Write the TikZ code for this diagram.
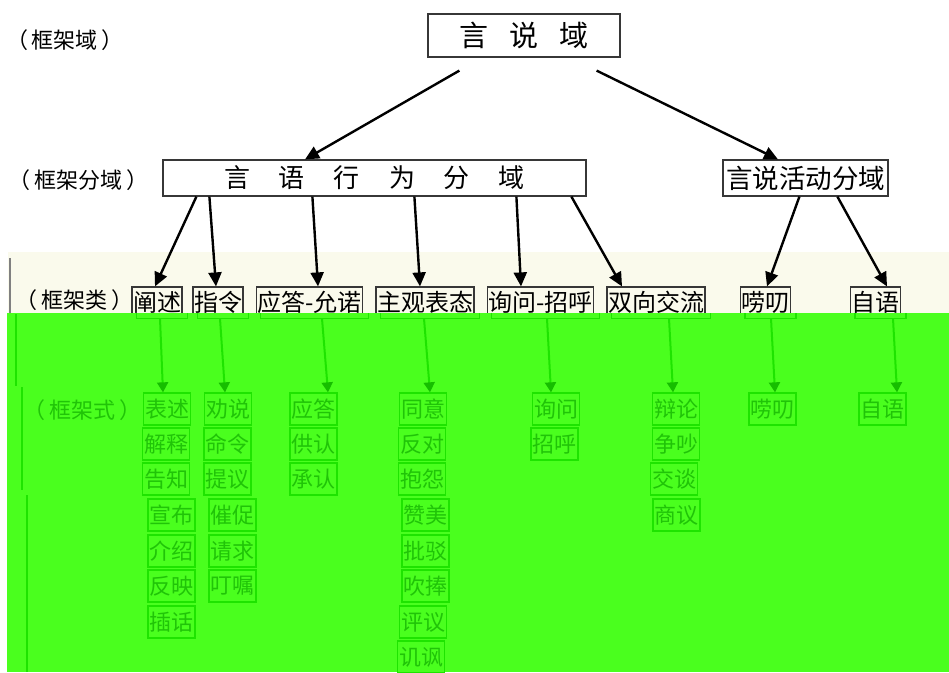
\documentclass[tikz,border=0pt]{standalone}
\usepackage{fontspec}
\setmainfont{Noto Sans CJK SC}
\usetikzlibrary{arrows, arrows.meta}
\usetikzlibrary{positioning}
\usepackage{xcolor}
\definecolor{cream}{RGB}{250,250,236}
\definecolor{glare}{RGB}{74,255,30}
\definecolor{gline}{RGB}{30,228,0}
\definecolor{gtext}{RGB}{32,196,8}
\definecolor{gtip}{RGB}{22,190,0}
\definecolor{boxgray}{RGB}{55,55,55}

\newcommand{\paren}[1]{（\hspace{4pt}#1\hspace{4pt}）}

\tikzset{
  frame/.style={draw=boxgray, line width=1.2pt, inner sep=1pt},
  cls/.style={frame, minimum height=31pt, font=\fontsize{24}{24}\selectfont},
  leaf/.style={draw=gline, line width=1.3pt, text=gtext, inner xsep=1.5pt, minimum height=32pt, font=\fontsize{22}{22}\selectfont},
  tag/.style={font=\fontsize{22}{22}\selectfont},
  arr/.style={black, line width=2.4pt, -{Triangle[length=14pt,width=13pt]}},
  garr/.style={gline, line width=2pt, -{Triangle[length=10pt,width=11pt,color=gtip]}}
}

\begin{document}
\begin{tikzpicture}[x=1pt, y=-1pt]
\useasboundingbox (0,0) rectangle (949,672);
\fill[white] (0,0) rectangle (949,672);

%band
\fill[cream] (8,252) rectangle (949,314);
\draw[gray, line width=2pt] (10,258) -- (10,314);

%domain and subdomains
\node[frame, minimum width=192pt, minimum height=43pt, font=\fontsize{29}{29}\selectfont] (field) at (524,35.5) {言\hspace{21pt}说\hspace{21pt}域};
\node[frame, minimum width=423pt, minimum height=36pt, font=\fontsize{26}{26}\selectfont] (speechact) at (374.5,178) {言\hspace{29pt}语\hspace{29pt}行\hspace{29pt}为\hspace{29pt}分\hspace{29pt}域\hspace{14pt}};
\node[frame, minimum width=165pt, minimum height=36pt, inner sep=0pt, font=\fontsize{26.5}{26.5}\selectfont] (speaking) at (805.5,178) {言说活动分域};

%classes
\node[cls] (chanshu) at (157,302.5) {阐述};
\node[cls] (zhiling) at (218,302.5) {指令};
\node[cls] (yingda) at (309.5,302.5) {应答-允诺};
\node[cls] (zhuguan) at (425,302.5) {主观表态};
\node[cls] (xunwen) at (540.5,302.5) {询问-招呼};
\node[cls] (shuangxiang) at (656,302.5) {双向交流};
\node[cls] (laodao) at (765.5,302.5) {唠叨};
\node[cls] (ziyu) at (875.5,302.5) {自语};

%labels
\node[tag] (tagfield) at (65,40) {\paren{框架域}};
\node[tag] (tagsub) at (79,180) {\paren{框架分域}};
\node[tag] (tagcls) at (74.5,300) {\paren{框架类}};

%black arrows
\draw[arr] ([xshift=32pt,yshift=-13pt]field.south west) -- ([xshift=-69.5pt]speechact.north);
\draw[arr] ([xshift=-24pt,yshift=-13pt]field.south east) -- ([xshift=-27.5pt]speaking.north);
\draw[arr] ([xshift=34pt]speechact.south west) -- ([xshift=-2pt]chanshu.north);
\draw[arr] ([xshift=47pt]speechact.south west) -- ([xshift=-2pt]zhiling.north);
\draw[arr] ([xshift=150pt]speechact.south west) -- ([xshift=8.5pt]yingda.north);
\draw[arr] ([xshift=252pt]speechact.south west) -- ([xshift=-5pt]zhuguan.north);
\draw[arr] ([xshift=354pt]speechact.south west) -- ([xshift=-19.5pt]xunwen.north);
\draw[arr] ([xshift=409pt]speechact.south west) -- ([xshift=-34pt]shuangxiang.north);
\draw[arr] ([xshift=77pt]speaking.south west) -- ([xshift=1.5pt]laodao.north);
\draw[arr] ([xshift=115pt]speaking.south west) -- ([xshift=11.5pt]ziyu.north);

%green part
\fill[glare] (7,313) rectangle (949,672);
\begin{scope}
\clip (7,313) rectangle (949,672);
\foreach \n in {chanshu, zhiling, yingda, zhuguan, xunwen, shuangxiang, laodao, ziyu}
  \draw[gline, line width=1.3pt] ([xshift=5pt]\n.north west) rectangle ([xshift=5pt]\n.south east);
\end{scope}
\draw[gline, line width=2.5pt] (16,314) -- (16,386);
\draw[gline, line width=2.5pt] (22,387) -- (22,490);
\draw[gline, line width=2.5pt] (27,495) -- (27,672);
\node[tag, text=gtext] (tagform) at (82.5,410) {\paren{框架式}};

%forms
\node[leaf] (a1) at (167,409) {表述};
\node[leaf] (a2) at (166,444) {解释};
\node[leaf] (a3) at (166,479) {告知};
\node[leaf] (a4) at (171.5,515) {宣布};
\node[leaf] (a5) at (171.5,551) {介绍};
\node[leaf] (a6) at (171.5,586) {反映};
\node[leaf] (a7) at (171.5,622) {插话};

\node[leaf] (b1) at (228,409) {劝说};
\node[leaf] (b2) at (227.5,444) {命令};
\node[leaf] (b3) at (227.5,479) {提议};
\node[leaf] (b4) at (232.5,515) {催促};
\node[leaf] (b5) at (232.5,551) {请求};
\node[leaf] (b6) at (232.5,586) {叮嘱};

\node[leaf] (c1) at (313.5,409) {应答};
\node[leaf] (c2) at (313.5,444) {供认};
\node[leaf] (c3) at (313.5,479) {承认};

\node[leaf] (d1) at (423,409) {同意};
\node[leaf] (d2) at (422,444) {反对};
\node[leaf] (d3) at (422,479) {抱怨};
\node[leaf] (d4) at (425.5,515) {赞美};
\node[leaf] (d5) at (425.5,551) {批驳};
\node[leaf] (d6) at (425.5,586) {吹捧};
\node[leaf] (d7) at (423,622) {评议};
\node[leaf] (d8) at (421,657) {讥讽};

\node[leaf] (e1) at (556,409) {询问};
\node[leaf] (e2) at (554.5,444) {招呼};

\node[leaf] (f1) at (676,409) {辩论};
\node[leaf] (f2) at (676,444) {争吵};
\node[leaf] (f3) at (674,479) {交谈};
\node[leaf] (f4) at (676.5,515) {商议};

\node[leaf] (g1) at (772.5,409) {唠叨};
\node[leaf] (h1) at (882.5,409) {自语};

%green arrows
\draw[garr] ([xshift=3pt]chanshu.south) -- ([xshift=-4pt]a1.north);
\draw[garr] ([xshift=2pt]zhiling.south) -- ([xshift=-3pt]b1.north);
\draw[garr] ([xshift=12.5pt]yingda.south) -- ([xshift=14.5pt]c1.north);
\draw[garr] ([xshift=-1pt]zhuguan.south) -- ([xshift=7pt]d1.north);
\draw[garr] ([xshift=6.5pt]xunwen.south) -- ([xshift=-5pt]e1.north);
\draw[garr] ([xshift=13pt]shuangxiang.south) -- ([xshift=-3pt]f1.north);
\draw[garr] ([xshift=5.5pt]laodao.south) -- ([xshift=2.5pt]g1.north);
\draw[garr] ([xshift=17.5pt]ziyu.south) -- ([xshift=14.5pt]h1.north);

\end{tikzpicture}
\end{document}
